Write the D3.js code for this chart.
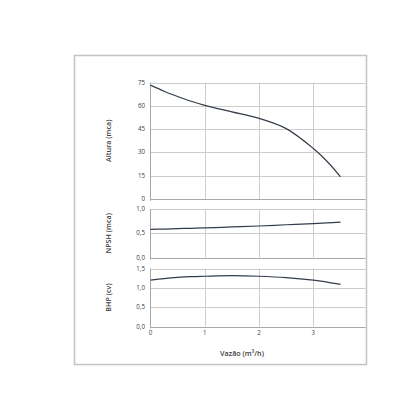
<!DOCTYPE html>
<html><head><meta charset="utf-8">
<script src="https://cdn.jsdelivr.net/npm/d3@7"></script>
<style>body{margin:0;background:#fff}svg{display:block}</style>
</head><body>
<script>
const flow = [0, 0.25, 0.5, 0.75, 1, 1.5, 2, 2.5, 3, 3.25, 3.5];
const altura = [73.3, 69.4, 66.0, 62.9, 60.3, 56.1, 51.9, 45.3, 32.5, 24.3, 14.3];
const npsh = [0.58, 0.587, 0.595, 0.602, 0.61, 0.63, 0.65, 0.675, 0.70, 0.715, 0.73];
const bhp = [1.2, 1.24, 1.27, 1.29, 1.3, 1.315, 1.3, 1.265, 1.2, 1.15, 1.09];
const xTicks = [0, 1, 2, 3];
const alturaTicks = [0, 15, 30, 45, 60, 75];
const npshTicks = [0, 0.5, 1.0];
const bhpTicks = [0, 0.5, 1.0, 1.5];

const W = 420, H = 420;
const svg = d3.select("body").append("svg").attr("width", W).attr("height", H);
const font = "'Open Sans', sans-serif";

svg.append("rect").attr("x", 74.5).attr("y", 55.5).attr("width", 292).attr("height", 309)
  .attr("fill", "#fff").attr("stroke", "#c4c4c4").attr("stroke-width", 1.5);

const x = d3.scaleLinear().domain([0, 3.96]).range([150.5, 365.5]);

const panels = [
  {data: altura, ticks: alturaTicks, dom: [0, 75], range: [199, 82.5], title: "Altura (mca)", fmt: d => String(d)},
  {data: npsh, ticks: npshTicks, dom: [0, 1], range: [257.5, 209], title: "NPSH (mca)", fmt: d => d3.format(".1f")(d).replace(".", ",")},
  {data: bhp, ticks: bhpTicks, dom: [0, 1.5], range: [326.5, 268.5], title: "BHP (cv)", fmt: d => d3.format(".1f")(d).replace(".", ",")}
];

panels.forEach(p => {
  const y = d3.scaleLinear().domain(p.dom).range(p.range);
  const g = svg.append("g");
  g.selectAll(".h").data(p.ticks).enter().append("line")
    .attr("x1", x(0)).attr("x2", x.range()[1])
    .attr("y1", d => Math.round(y(d)) + 0.5).attr("y2", d => Math.round(y(d)) + 0.5)
    .attr("stroke", d => d === 0 ? "#a8a8a8" : "#cdcdcd").attr("stroke-width", 1);
  g.selectAll(".v").data(xTicks.slice(1)).enter().append("line")
    .attr("x1", d => Math.round(x(d)) + 0.5).attr("x2", d => Math.round(x(d)) + 0.5)
    .attr("y1", y(p.dom[1])).attr("y2", y(0))
    .attr("stroke", "#cdcdcd");
  g.append("line").attr("x1", x(0)).attr("x2", x(0)).attr("y1", y(p.dom[1])).attr("y2", y(0) + 2)
    .attr("stroke", "#a8a8a8");
  g.selectAll(".t").data(p.ticks).enter().append("text")
    .attr("x", 145).attr("y", d => y(d) + 2)
    .attr("text-anchor", "end").attr("font-family", font).attr("font-size", 6.2).attr("fill", "#404040")
    .text(p.fmt);
  const cy = (p.range[0] + p.range[1]) / 2;
  g.append("text").attr("transform", `translate(111,${cy}) rotate(-90)`)
    .attr("text-anchor", "middle").attr("font-family", font).attr("font-size", 7.2)
    .attr("font-weight", 600).attr("fill", "#404040").text(p.title);
  const line = d3.line().x((d, i) => x(flow[i])).y(d => y(d)).curve(d3.curveCatmullRom.alpha(0.5));
  g.append("path").datum(p.data).attr("d", line).attr("fill", "none")
    .attr("stroke", "#333d4a").attr("stroke-width", 1.2);
});

svg.selectAll(".xt").data(xTicks).enter().append("text")
  .attr("x", d => x(d)).attr("y", 335).attr("text-anchor", "middle")
  .attr("font-family", font).attr("font-size", 6.2).attr("fill", "#404040").text(d => d);

svg.append("text").attr("x", 242).attr("y", 356).attr("text-anchor", "middle")
  .attr("font-family", font).attr("font-size", 7.2).attr("font-weight", 600).attr("fill", "#404040")
  .text("Vazão (m³/h)");
</script>
</body></html>
